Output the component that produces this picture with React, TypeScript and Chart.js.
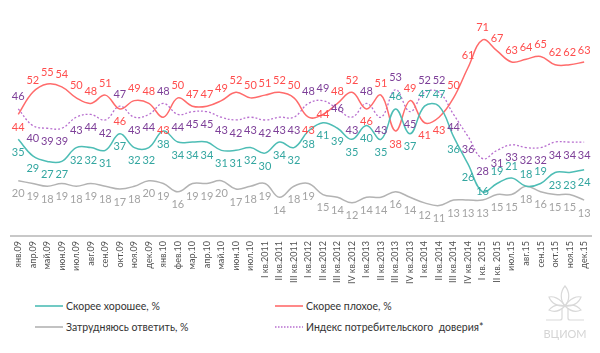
import React, { useEffect, useRef } from 'react';
import { Chart, registerables } from 'chart.js';

Chart.register(...registerables);

const categories = [
  'янв.09', 'апр.09', 'май.09', 'июн.09', 'июл.09', 'авг.09', 'сен.09', 'окт.09', 'ноя.09', 'дек.09',
  'янв.10', 'фев.10', 'мар.10', 'апр.10', 'май.10', 'июн.10', 'июл.10',
  'I кв.2011', 'II кв.2011', 'III кв.2011',
  'I кв.2012', 'II кв.2012', 'III кв.2012', 'IV кв.2012',
  'I кв.2013', 'II кв.2013', 'III кв.2013', 'IV кв.2013',
  'I кв.2014', 'II кв.2014', 'III кв.2014', 'IV кв.2014',
  'I кв. 2015', 'II кв. 2015', 'июл.15', 'авг.15', 'сен.15', 'окт.15', 'ноя.15', 'дек.15',
];

const good = [35, 29, 27, 27, 32, 32, 31, 37, 32, 32, 38, 34, 34, 34, 31, 31, 32, 30, 34, 32, 38, 41, 39, 35, 40, 35, 46, 37, 47, 47, 36, 26, 16, 19, 21, 18, 19, 23, 23, 24];
const bad = [44, 52, 55, 54, 50, 48, 51, 46, 49, 48, 43, 50, 47, 47, 49, 52, 50, 51, 52, 50, 43, 44, 48, 52, 46, 51, 38, 49, 41, 43, 50, 61, 71, 67, 63, 64, 65, 62, 62, 63];
const hard = [20, 19, 18, 19, 18, 19, 18, 17, 18, 20, 19, 16, 19, 19, 20, 17, 18, 19, 14, 18, 19, 15, 14, 12, 14, 14, 16, 14, 12, 11, 13, 13, 13, 15, 15, 18, 16, 15, 15, 13];
const index = [46, 40, 39, 39, 43, 44, 42, 47, 43, 44, 48, 44, 45, 45, 43, 42, 43, 42, 43, 43, 48, 49, 46, 43, 48, 43, 53, 45, 52, 52, 44, 36, 28, 31, 33, 32, 32, 34, 34, 34];

// label placement per point: a = above line, b = below line, o = on line
const goodPlace = 'bbbbbbbbbbbbbbbbbbbbbbbbbb' + 'abaabboaaaabbb';
const badPlace = 'b' + 'aaaaaa' + 'b' + 'aa' + 'b' + 'aaaaaaaaa' + 'b' + 'o' + 'aa' + 'b' + 'a' + 'b' + 'a' + 'bb' + 'aaaaaaaaaa';
const hardPlace = 'bbbbbbbbbbbbbbbbbbbbbbbbbbbbbbbbbbbbbbbb';
const indexPlace = 'a' + 'bbbbbb' + 'a' + 'bb' + 'a' + 'bbbbbbbbb' + 'a' + 'a' + 'o' + 'b' + 'a' + 'b' + 'a' + 'b' + 'aa' + 'bbbbbbbbbb';

const valueLabels = {
  id: 'valueLabels',
  afterDatasetsDraw(chart: any) {
    const ctx = chart.ctx;
    chart.data.datasets.forEach((ds: any, di: number) => {
      const meta = chart.getDatasetMeta(di);
      meta.data.forEach((pt: any, i: number) => {
        const p = ds.labelPlace[i];
        const off = p === 'a' ? -12 : p === 'b' ? 13 : 0;
        ctx.save();
        ctx.font = '11px Lato';
        ctx.fillStyle = ds.labelColor;
        ctx.textAlign = 'center';
        ctx.textBaseline = 'middle';
        ctx.fillText(String(ds.data[i]), pt.x, pt.y + off);
        ctx.restore();
      });
    });
  },
};

function LegendItem({ left, top, color, dashed, text }: any) {
  return (
    <div style={{ position: 'absolute', left, top, height: 14, display: 'flex', alignItems: 'center', fontFamily: 'Lato', fontSize: 10.5, color: '#333' }}>
      <svg width="28" height="4" style={{ marginRight: 3 }}>
        <line x1="0" y1="2" x2="28" y2="2" stroke={color} strokeWidth={dashed ? 1.3 : 1.6} strokeDasharray={dashed ? '1.5 1.5' : undefined} />
      </svg>
      <span style={{ whiteSpace: 'pre' }}>{text}</span>
    </div>
  );
}

export default function App() {
  const ref = useRef<HTMLCanvasElement>(null);
  useEffect(() => {
    document.body.style.margin = '0';
    const chart = new Chart(ref.current as HTMLCanvasElement, {
      type: 'line',
      data: {
        labels: categories,
        datasets: [
          { label: 'Скорее хорошее, %', data: good, borderColor: '#4dbdb5', borderWidth: 1.5, labelColor: '#33a6a0', labelPlace: goodPlace } as any,
          { label: 'Скорее плохое, %', data: bad, borderColor: '#ff6b6b', borderWidth: 1.5, labelColor: '#ff4d4d', labelPlace: badPlace } as any,
          { label: 'Затрудняюсь ответить, %', data: hard, borderColor: '#b3b3b3', borderWidth: 1.5, labelColor: '#a3a3a3', labelPlace: hardPlace } as any,
          { label: 'Индекс потребительского доверия*', data: index, borderColor: '#b86fcf', borderWidth: 1.3, borderDash: [2, 2], labelColor: '#7d3f98', labelPlace: indexPlace } as any,
        ],
      },
      options: {
        animation: false,
        responsive: true,
        maintainAspectRatio: false,
        layout: { padding: { top: 15, left: 11, right: 5, bottom: 0 } },
        elements: { point: { radius: 0 }, line: { tension: 0.4 } },
        plugins: { legend: { display: false }, tooltip: { enabled: false } },
        scales: {
          x: {
            offset: true,
            grid: { display: false, drawTicks: false },
            border: { display: true, color: '#c8c8c8', width: 2 },
            ticks: { autoSkip: false, minRotation: 90, maxRotation: 90, padding: 5, color: '#505050', font: { size: 9, family: 'Lato' } },
            afterFit: (s: any) => { s.height = 54; },
          },
          y: { display: false, min: 0, max: 80 },
        },
      },
      plugins: [valueLabels],
    });
    return () => chart.destroy();
  }, []);

  return (
    <div style={{ position: 'relative', width: 600, height: 353, background: '#fff', overflow: 'hidden' }}>
      <div style={{ position: 'absolute', left: 0, top: 0, width: 600, height: 290 }}>
        <canvas ref={ref} />
      </div>
      <LegendItem left={35} top={299} color="#4dbdb5" text="Скорее хорошее, %" />
      <LegendItem left={275} top={299} color="#ff6b6b" text="Скорее плохое, %" />
      <LegendItem left={35} top={320} color="#b3b3b3" text="Затрудняюсь ответить, %" />
      <LegendItem left={275} top={320} color="#b86fcf" dashed text="Индекс потребительского  доверия*" />
      <svg style={{ position: 'absolute', left: 540, top: 282 }} width="50" height="62" viewBox="0 0 50 62">
        <g fill="none" stroke="#d9d9d9" strokeWidth="1.2">
          <path d="M25 4 C20 10 20 18 25 24 C30 18 30 10 25 4 Z" />
          <path d="M25 24 C20 16 13 14 9 15 C11 21 18 25 25 24 Z" />
          <path d="M25 24 C30 16 37 14 41 15 C39 21 32 25 25 24 Z" />
          <path d="M25 24 C18 22 12 24 9 28 C15 31 21 28 25 24 Z" />
          <path d="M25 24 C32 22 38 24 41 28 C35 31 29 28 25 24 Z" />
          <path d="M22 26 L22 36 Q22 38 20 38 L6 38" />
          <path d="M28 26 L28 36 Q28 38 30 38 L44 38" />
        </g>
        <text x="25" y="56" textAnchor="middle" fontFamily="Lato" fontSize="11" fill="#d4d4d4">ВЦИОМ</text>
      </svg>
    </div>
  );
}
